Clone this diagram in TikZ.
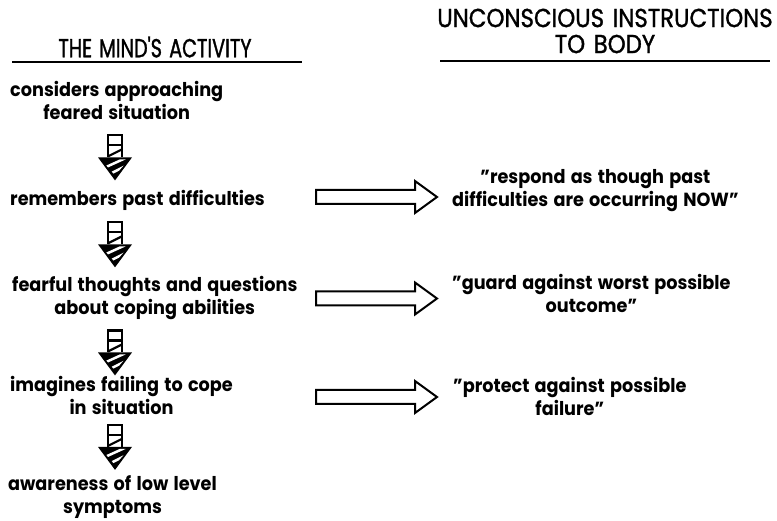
\documentclass[tikz,border=0pt]{standalone}
\usepackage{fontspec}
\setmainfont{Poppins}[FakeStretch=0.93, WordSpace=1.4]
\newfontfamily\headfont{Poppins}[FakeStretch=0.74, FakeBold=1.2, WordSpace=1.4]
\newfontfamily\headwide{Poppins}[FakeStretch=0.88, FakeBold=1.2, WordSpace=1.4]
\usetikzlibrary{calc}

\begin{document}
\begin{tikzpicture}[x=1pt,y=-1pt,
    head/.style={font=\headfont\fontsize{26}{26}\selectfont, inner sep=0pt, align=center},
    item/.style={font=\bfseries\fontsize{19}{23}\selectfont, inner sep=0pt, align=center, anchor=west},
    rule/.style={line width=2.5pt},
    hollowarrow/.style={line width=2pt, line join=miter, to path={
      ($(\tikztostart)+(0,-7)$) -- ($(\tikztotarget)+(-22,-7)$) -- ($(\tikztotarget)+(-22,-16)$)
      -- (\tikztotarget) -- ($(\tikztotarget)+(-22,16)$) -- ($(\tikztotarget)+(-22,7)$)
      -- ($(\tikztostart)+(0,7)$) -- cycle}},
    hatcharrow/.pic={
      \fill (-17,22) -- (17,22) -- (0,45) -- cycle;
      \begin{scope}
        \clip (-14,24) -- (14,24) -- (0,40) -- cycle;
        \draw[white, line width=2.5pt] (-12,33) -- (10,23);
        \draw[white, line width=2.5pt] (-8,40) -- (12,30);
      \end{scope}
      \draw[line width=2.2pt, line join=miter] (-7,22) -- (-7,0) -- (7,0) -- (7,22);
      \draw[line width=2.2pt] (-7,10) -- (7,10);
      \draw[line width=2.2pt] (-7,21) -- (7,14);
    }]
  \useasboundingbox (0,0) rectangle (777,521);

  % headings
  \node[head] (mind) at (155,47) {THE MIND'S ACTIVITY};
  \node[head, font=\headwide\fontsize{26}{26}\selectfont] (body) at (605,31) {UNCONSCIOUS INSTRUCTIONS\\TO BODY};
  \draw[rule] (12,62) -- (302,62);
  \draw[rule] (440,61) -- (770,61);

  % left column
  \node[item] (consider) at (10,100) {considers approaching\\feared situation};
  \node[item] (remember) at (10,200) {remembers past difficulties};
  \node[item] (fearful) at (12,298.5) {fearful thoughts and questions\\about coping abilities};
  \node[item] (imagine) at (10,395.5) {imagines failing to cope\\in situation};
  \node[item] (aware) at (8,497.5) {awareness of low level\\symptoms};

  % right column
  \node[item] (respond) at (452,190.5) {"respond as though past\\difficulties are occurring NOW"};
  \node[item] (guard) at (452,293) {"guard against worst possible\\outcome"};
  \node[item] (protect) at (453,396) {"protect against possible\\failure"};

  % down arrows
  \coordinate (ax) at (115,0);
  \pic at (consider.south -| ax) [yshift=-16pt] {hatcharrow};
  \pic at (remember.south -| ax) [yshift=-12pt] {hatcharrow};
  \pic at (fearful.south -| ax) [yshift=-10pt] {hatcharrow};
  \pic at (imagine.south -| ax) [yshift=-10pt] {hatcharrow};

  % across arrows
  \coordinate (hs) at (316,0);
  \coordinate (he) at (437,0);
  \draw[hollowarrow] ($(remember -| hs)+(0,-3)$) to ($(remember -| he)+(0,-3)$);
  \draw[hollowarrow] (fearful -| hs) to (fearful -| he);
  \draw[hollowarrow] ($(imagine -| hs)+(0,1.5)$) to ($(imagine -| he)+(0,1.5)$);
\end{tikzpicture}
\end{document}
